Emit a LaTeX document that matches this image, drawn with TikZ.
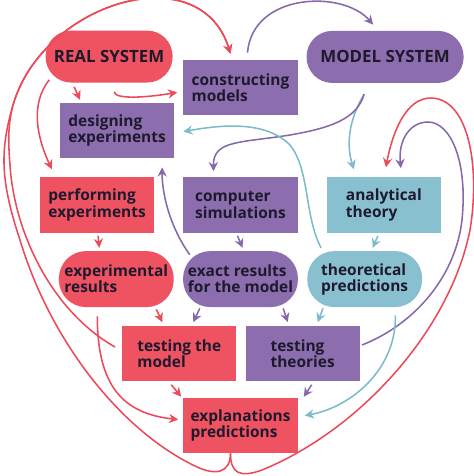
\documentclass[tikz,border=0pt]{standalone}
\usepackage{fontspec}
\setsansfont{Open Sans}
\usepackage{tikz}
\usetikzlibrary{positioning,calc,arrows.meta}
\definecolor{HeartRed}{HTML}{EF5362}
\definecolor{HeartPurple}{HTML}{8C6EAF}
\definecolor{HeartBlue}{HTML}{89C0D0}
\definecolor{HeartInk}{HTML}{1E192D}
\definecolor{LineRed}{HTML}{EB4A5A}
\definecolor{LinePurple}{HTML}{8769AB}
\definecolor{LineBlue}{HTML}{7DBBCB}

\begin{document}
\begin{tikzpicture}[x=0.025cm, y=-0.025cm,
                    >={Stealth[length=6.5pt,width=6.5pt]},
                    every node/.style={align=left, text=HeartInk, inner sep=0pt,
                                       font=\sffamily\bfseries\fontsize{11}{11.5}\selectfont},
                    box/.style={rectangle, minimum width=2.85cm, minimum height=1.375cm},
                    pill/.style={rectangle, rounded corners=0.68cm, minimum width=2.87cm, minimum height=1.4cm},
                    sysbox/.style={rectangle, rounded corners=0.64cm, minimum height=1.3cm,
                                   font=\sffamily\bfseries\fontsize{12}{14}\selectfont},
                    rline/.style={draw=LineRed, line width=1.1pt, ->},
                    pline/.style={draw=LinePurple, line width=1.1pt, ->},
                    bline/.style={draw=LineBlue, line width=1.1pt, ->}]
\useasboundingbox (0,0) rectangle (474,476);
\node[box, fill=HeartPurple] (sim) at (240.5,205) {computer\\simulations};
\node[box, fill=HeartRed, left=0.72cm of sim] (perform) {performing\\experiments};
\node[box, fill=HeartBlue, right=0.72cm of sim] (theory) {analytical\\theory};
\node[pill, fill=HeartPurple, below=0.45cm of sim] (exact) {exact results\\for the model};
\node[pill, fill=HeartRed, left=0.22cm of exact] (expres) {experimental\\results};
\node[pill, fill=HeartBlue, right=0.22cm of exact] (theopred) {theoretical\\predictions};
\node[box, fill=HeartRed, below=0.47cm of exact, xshift=-1.53cm] (testmod) {testing the\\model};
\node[box, fill=HeartPurple, right=0.22cm of testmod] (testth) {testing\\theories};
\node[box, fill=HeartRed, below=0.4cm of testmod, xshift=1.53cm] (expl) {explanations\\predictions};
\node[box, fill=HeartPurple, above=0.47cm of perform, xshift=0.5cm] (design) {designing\\experiments};
\node[box, fill=HeartPurple, above=1.55cm of sim] (constr) {constructing\\models};
\node[sysbox, fill=HeartRed, minimum width=3.175cm, above=0.5cm of design, xshift=-0.2cm] (real) {REAL SYSTEM};
\node[sysbox, fill=HeartPurple, minimum width=3.925cm, above=2.35cm of theory, xshift=0.03cm] (model) {MODEL SYSTEM};

% real system side
\draw[rline] ($(real.south)+(-35,4)$) -- ($(design.north)+(-37,-3)$);
\draw[rline] ($(real.south)+(5,9)$) .. controls +(1,8) and +(-30,5) .. ($(constr.west)+(-6,5)$);
\draw[rline] ($(real.south west)+(4,-3)$) .. controls +(-20,25) and +(-14,-30) .. ($(perform.north west)+(12,-8)$);
\draw[rline] ($(perform.south)+(1,3)$) -- ($(expres.north)+(-17,-3)$);
\draw[rline] ($(expres.south)+(40,2)$) -- ($(testmod.north)+(-17,-4)$);
\draw[rline] ($(expres.south)+(-19,9)$) .. controls +(0,70) and +(-55,-6) .. ($(expl.west)+(-5,-6)$);
\draw[rline] ($(testmod.south)+(-8,3)$) -- ($(expl.north west)+(-2,-1)$);
% the heart
\draw[rline] ($(expl.south)+(-10,0)$) .. controls +(0,20) and (215,476) .. (195,466)
  .. controls (120,430) and (50,340) .. (20,240) .. controls (0,180) and (0,150) .. (13,105)
  .. controls (43,2) and (200,-45) .. ($(constr.north)+(-10,-6)$);
\draw[rline] ($(testmod.west)+(-7,-7)$) .. controls (50,310) and (14,230) .. (10,165)
  .. controls (8,140) and (8,125) .. (13,105)
  .. controls (43,2) and (200,-45) .. ($(constr.north)+(-10,-6)$);
\draw[rline] ($(expl.south)+(-10,0)$) .. controls +(0,20) and (240,478) .. (262,470)
  .. controls (360,430) and (450,330) .. (470,230) .. controls (480,170) and (470,100) .. (432,98)
  .. controls (405,97) and (392,135) .. ($(theory.north)+(2,-10)$);

% model system side
\draw[pline] ($(constr.north)+(7,-7)$) .. controls +(5,-60) and +(-30,-35) .. ($(model.north)+(-12,-6)$);
\draw[bline] ($(model.south)+(-21,11)$) .. controls +(-15,25) and +(-8,-25) .. ($(theory.north)+(-30,-8)$);
\draw[pline] ($(model.south)+(-21,11)$) .. controls +(-7,25) and (330,128) .. (290,135)
  .. controls (240,143) and (213,140) .. ($(sim.north)+(-27,-6)$);
\draw[pline] ($(exact.north west)+(7,4)$) .. controls +(-18,-25) and +(0,30) .. ($(design.south)+(45,9)$);
\draw[pline] ($(sim.south)+(-3,3)$) -- ($(exact.north)+(2,-3)$);
\draw[pline] ($(exact.south west)+(17,1)$) -- ($(testmod.north)+(14,-4)$);
\draw[pline] ($(exact.south east)+(-15,1)$) -- ($(testth.north)+(-15,-4)$);
\draw[pline] ($(testth.south)+(9,3)$) -- ($(expl.north east)+(6,-1)$);
\draw[pline] ($(testth.east)+(2,-9)$) .. controls +(49,-19) and (455,280) .. (462,220)
  .. controls (468,160) and (450,122) .. (428,122)
  .. controls (410,122) and (398,140) .. ($(theory.north)+(17,-9)$);

% theory side
\draw[bline] ($(theopred.north west)+(14,-3)$) .. controls +(-17,-33) and (310,170) .. (290,145)
  .. controls (265,120) and (220,125) .. ($(design.east)+(9,1)$);
\draw[bline] ($(theory.south)+(-6,3)$) -- ($(theopred.north)+(8,-3)$);
\draw[bline] ($(theopred.south west)+(16,1)$) -- ($(testth.north)+(15,-4)$);
\draw[bline] ($(theopred.south east)+(-27,8)$) .. controls +(1,55) and +(45,-8) .. ($(expl.east)+(7,-10)$);
\end{tikzpicture}
\end{document}
